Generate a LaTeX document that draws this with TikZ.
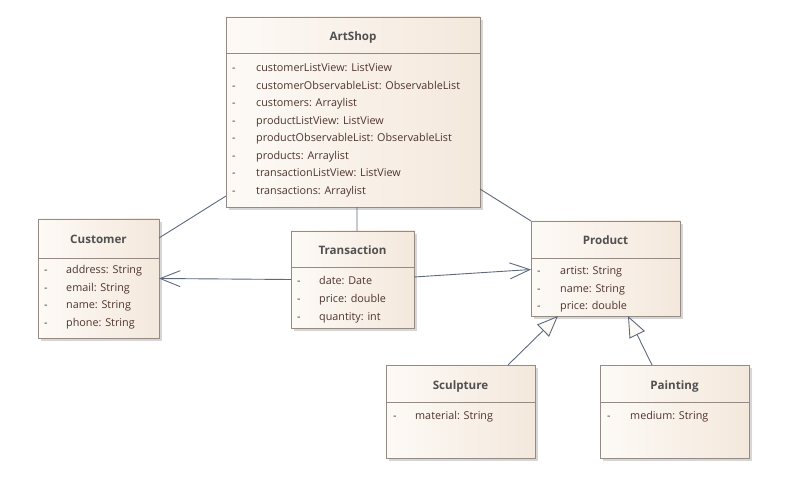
\documentclass[tikz,border=0pt]{standalone}
\usepackage{fontspec}
\setmainfont{Open Sans}
\usetikzlibrary{arrows.meta,shadows,calc}
\definecolor{boxline}{RGB}{150,138,132}
\definecolor{fillA}{RGB}{253,250,246}
\definecolor{fillB}{RGB}{244,232,220}
\definecolor{txt}{RGB}{78,52,46}
\definecolor{ttl}{RGB}{80,80,80}
\definecolor{conn}{RGB}{95,105,125}
\begin{document}
\begin{tikzpicture}[x=1bp,y=-1bp,
  classbox/.style={draw=boxline, line width=0.8bp, left color=fillA, right color=fillB,
    anchor=north west, inner sep=0, outer sep=0,
    drop shadow={shadow xshift=3bp, shadow yshift=-3bp, fill=black!35, opacity=0.45}},
  sepline/.style={draw=boxline, line width=0.8bp},
  ttlstyle/.style={font=\fontsize{11.6bp}{13bp}\selectfont\bfseries, text=ttl, inner sep=0, anchor=base},
  attr/.style={font=\fontsize{10.8bp}{12bp}\selectfont, text=txt, inner sep=0, anchor=base west},
  assoc/.style={draw=conn, line width=0.9bp},
  navarrow/.style={assoc, -{Straight Barb[length=20bp,width=16bp,line width=0.9bp]}},
  genarrow/.style={assoc, -{Triangle[open, length=21bp, width=17bp, fill=fillA, line width=0.9bp]}}
]
\useasboundingbox[fill=white] (0,0) rectangle (788,492);

% ---------- ArtShop ----------
\node[classbox, minimum width=254bp, minimum height=190bp] (artshop) at (226,17) {};
\draw[sepline] ($(artshop.north west)+(0,36)$) -- ($(artshop.north east)+(0,36)$);
\node[ttlstyle] (artshopT) at (353,41) {ArtShop};
\foreach \t [count=\i from 0] in {customerListView: ListView, customerObservableList: ObservableList, customers: Arraylist, productListView: ListView, productObservableList: ObservableList, products: Arraylist, transactionListView: ListView, transactions: Arraylist}{
  \node[attr] (artshopD\i) at (232,71.5+17.55*\i) {-};
  \node[attr] (artshopA\i) at (256,71.5+17.55*\i) {\t};
}

% ---------- Customer ----------
\node[classbox, minimum width=121bp, minimum height=119bp] (customer) at (38,219) {};
\draw[sepline] ($(customer.north west)+(0,39)$) -- ($(customer.north east)+(0,39)$);
\node[ttlstyle] (customerT) at (98.5,243.5) {Customer};
\foreach \t [count=\i from 0] in {address: String, email: String, name: String, phone: String}{
  \node[attr] (customerD\i) at (44,273.5+17.6*\i) {-};
  \node[attr] (customerA\i) at (66,273.5+17.6*\i) {\t};
}

% ---------- Transaction ----------
\node[classbox, minimum width=123bp, minimum height=97bp] (transaction) at (291,231) {};
\draw[sepline] ($(transaction.north west)+(0,36)$) -- ($(transaction.north east)+(0,36)$);
\node[ttlstyle] (transactionT) at (352.5,254.5) {Transaction};
\foreach \t [count=\i from 0] in {date: Date, price: double, quantity: int}{
  \node[attr] (transactionD\i) at (297,285+17.6*\i) {-};
  \node[attr] (transactionA\i) at (319,285+17.6*\i) {\t};
}

% ---------- Product ----------
\node[classbox, minimum width=149bp, minimum height=95bp] (product) at (531,221) {};
\draw[sepline] ($(product.north west)+(0,37)$) -- ($(product.north east)+(0,37)$);
\node[ttlstyle] (productT) at (605.5,244.5) {Product};
\foreach \t [count=\i from 0] in {artist: String, name: String, price: double}{
  \node[attr] (productD\i) at (537,274.5+17.6*\i) {-};
  \node[attr] (productA\i) at (560,274.5+17.6*\i) {\t};
}

% ---------- Sculpture ----------
\node[classbox, minimum width=149bp, minimum height=93bp] (sculpture) at (386,365) {};
\draw[sepline] ($(sculpture.north west)+(0,37)$) -- ($(sculpture.north east)+(0,37)$);
\node[ttlstyle] (sculptureT) at (460.5,389.5) {Sculpture};
\node[attr] (sculptureD0) at (393,419) {-};
\node[attr] (sculptureA0) at (415,419) {material: String};

% ---------- Painting ----------
\node[classbox, minimum width=149bp, minimum height=93bp] (painting) at (600,365) {};
\draw[sepline] ($(painting.north west)+(0,37)$) -- ($(painting.north east)+(0,37)$);
\node[ttlstyle] (paintingT) at (674.5,389.5) {Painting};
\node[attr] (paintingD0) at (607,419) {-};
\node[attr] (paintingA0) at (630,419) {medium: String};

% ---------- Connectors ----------
\draw[assoc] ($(artshop.south west)+(0,-11)$) -- ($(customer.north east)+(0,19)$);
\draw[assoc] ($(artshop.south)+(4,0)$) -- ($(transaction.north)+(4.5,0)$);
\draw[assoc] ($(artshop.south east)+(0,-18)$) -- (product.north west);
\draw[navarrow] (transaction.west) -- (customer.east);
\draw[navarrow] ($(transaction.east)+(0,-2.5)$) -- ($(product.west)+(0,1)$);
\draw[genarrow] ($(sculpture.north)+(47.5,0)$) -- ($(product.south west)+(27,0)$);
\draw[genarrow] ($(painting.north)+(-22.5,0)$) -- ($(product.south)+(22.5,0)$);
\end{tikzpicture}
\end{document}
